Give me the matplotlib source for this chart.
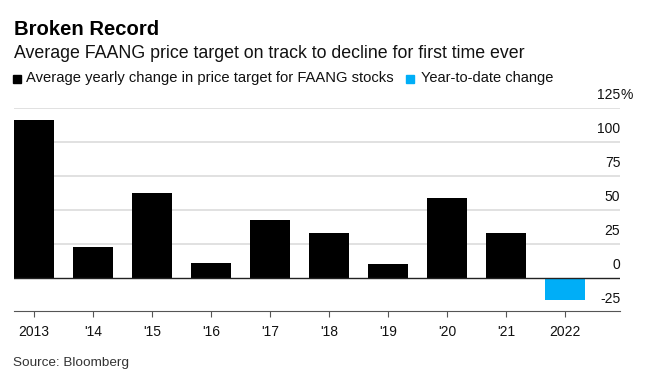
import numpy as np
import matplotlib.pyplot as plt
from matplotlib.patches import Rectangle

plt.rcParams['font.family'] = ['Liberation Sans', 'DejaVu Sans']

# données
annees = ["2013", "'14", "'15", "'16", "'17", "'18", "'19", "'20", "'21", "2022"]
variation = [116, 23, 62.5, 11, 42.5, 33, 10, 59, 33, -16]
ytd = [False] * 9 + [True]
yticks = [-25, 0, 25, 50, 75, 100, 125]

noir = "#000000"
bleu = "#00AEF7"

fig = plt.figure(figsize=(6.45, 3.71), dpi=100)
ax = fig.add_axes([0.0217, 0.162, 0.94, 0.547])

x = np.arange(len(annees))
couleurs = [bleu if y else noir for y in ytd]
ax.bar(x, variation, width=0.68, color=couleurs, zorder=3)

ax.set_xlim(-0.34, 9.93)
ax.set_ylim(-24.2, 125)

# grille horizontale + étiquettes à droite, au-dessus des lignes
for v in yticks:
    if v != -25:
        col = "#222222" if v == 0 else "#dcdcdc"
        ax.axhline(v, color=col, lw=1.0 if v == 0 else 1.2, zorder=2 if v else 4)
    ax.text(9.93, v + 4.5, str(v), ha="right", va="bottom", fontsize=10, color="#111111")
    if v == 125:
        ax.text(9.93, v + 4.5, "%", ha="left", va="bottom", fontsize=10, color="#111111")

for s in ["top", "right", "left"]:
    ax.spines[s].set_visible(False)
ax.spines["bottom"].set_color("#555555")
ax.set_yticks([])
ax.set_xticks(x)
ax.set_xticklabels(annees, fontsize=10, color="#111111")
ax.tick_params(axis="x", direction="out", length=4, color="#555555", pad=6)

# titres
fig.text(0.021, 0.905, "Broken Record", fontsize=14.6, fontweight="bold", ha="left", va="baseline")
fig.text(0.021, 0.843, "Average FAANG price target on track to decline for first time ever",
         fontsize=12.8, ha="left", va="baseline", color="#111111")

# légende
ly = 0.778
fig.patches.append(Rectangle((0.020, ly - 0.003), 0.0125, 0.0215, transform=fig.transFigure,
                             color=noir, figure=fig))
fig.text(0.040, ly, "Average yearly change in price target for FAANG stocks",
         fontsize=10.6, ha="left", va="baseline", color="#111111")
fig.patches.append(Rectangle((0.630, ly - 0.003), 0.0125, 0.0215, transform=fig.transFigure,
                             color=bleu, figure=fig))
fig.text(0.652, ly, "Year-to-date change", fontsize=10.5, ha="left", va="baseline", color="#111111")

fig.text(0.020, 0.013, "Source: Bloomberg", fontsize=9.7, ha="left", va="baseline", color="#333333")

plt.savefig("out.png", dpi=100)
